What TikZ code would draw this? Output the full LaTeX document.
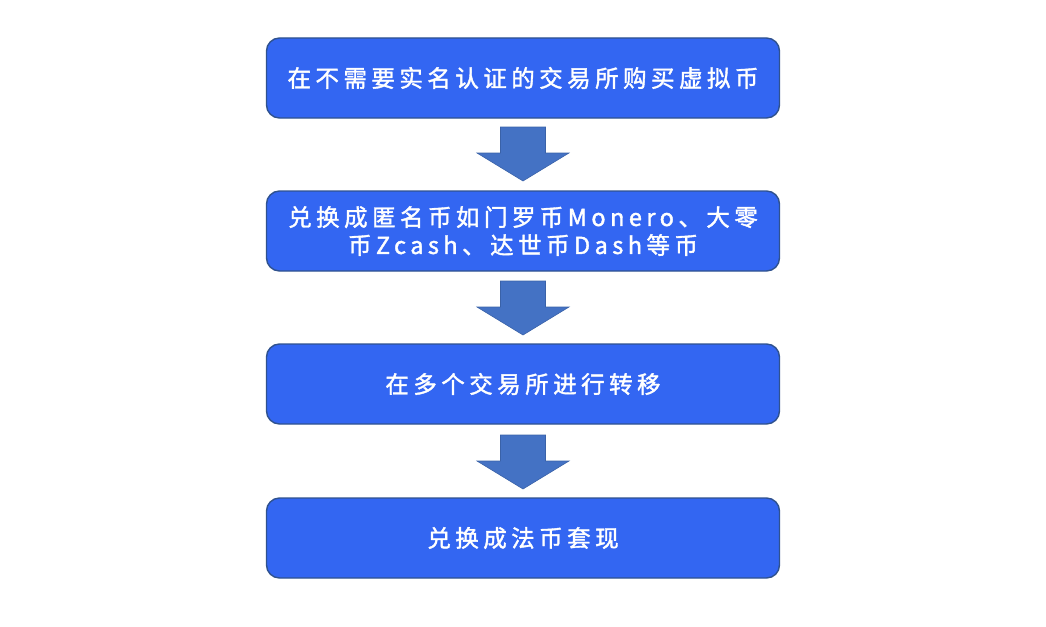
\documentclass[tikz,border=0pt]{standalone}
\usepackage{fontspec}
\newfontfamily\cjk[LetterSpace=19,FakeBold=1.6]{Noto Sans CJK SC}
\definecolor{boxfill}{HTML}{3366F2}
\definecolor{boxline}{HTML}{2F528F}
\definecolor{arrfill}{HTML}{4472C4}
\definecolor{arrline}{HTML}{3A62A8}
\tikzset{
  stepbox/.style={draw=boxline, line width=1.4pt, fill=boxfill, rounded corners=13pt,
    minimum width=513pt, minimum height=80pt, text=white, align=center,
    font=\cjk\fontsize{23.5pt}{28pt}\selectfont},
  downarrow/.pic={
    \draw[draw=arrline, line width=0.6pt, fill=arrfill]
      (-22.5,0) -- (22.5,0) -- (22.5,26) -- (46,26) -- (0,54) -- (-46,26) -- (-22.5,26) -- cycle;
  }
}
\begin{document}
\begin{tikzpicture}[x=1pt,y=-1pt]
\useasboundingbox (0,0) rectangle (1046,626);
\node[stepbox] (b1) at (523,78) {在不需要实名认证的交易所购买虚拟币};
\node[stepbox] (b2) at (523,231) {兑换成匿名币如门罗币Monero、大零\\币Zcash、达世币Dash等币};
\node[stepbox] (b3) at (523,384) {在多个交易所进行转移};
\node[stepbox] (b4) at (523,538) {兑换成法币套现};
\pic at (523,127) {downarrow};
\pic at (523,281) {downarrow};
\pic at (523,435) {downarrow};
\end{tikzpicture}
\end{document}
